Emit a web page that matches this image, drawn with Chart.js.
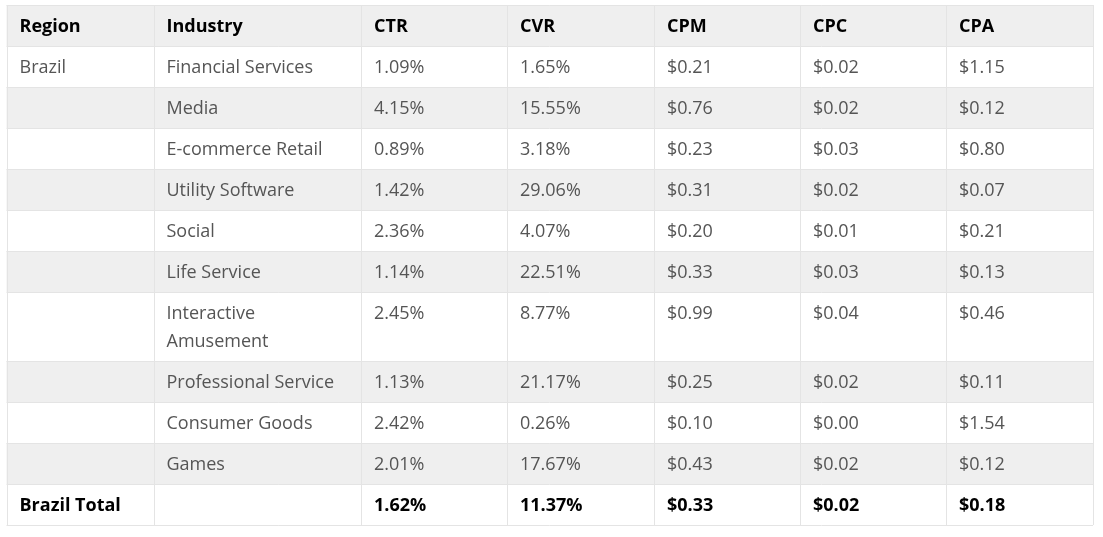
<!DOCTYPE html>
<html><head><meta charset="utf-8">
<script src="https://cdn.jsdelivr.net/npm/chart.js@4.4.0/dist/chart.umd.min.js"></script>
<style>html,body{margin:0;padding:0;background:#fff;overflow:hidden}#wrap{width:1103px;height:537px;position:relative}</style>
</head><body><div id="wrap"><canvas id="c"></canvas></div>
<script>
// ---- data ----
const columns = ['Region','Industry','CTR','CVR','CPM','CPC','CPA'];
const regions = ['Brazil','','','','','','','','',''];
const industries = ['Financial Services','Media','E-commerce Retail','Utility Software','Social','Life Service','Interactive Amusement','Professional Service','Consumer Goods','Games'];
const ctr = [1.09,4.15,0.89,1.42,2.36,1.14,2.45,1.13,2.42,2.01];
const cvr = [1.65,15.55,3.18,29.06,4.07,22.51,8.77,21.17,0.26,17.67];
const cpm = [0.21,0.76,0.23,0.31,0.20,0.33,0.99,0.25,0.10,0.43];
const cpc = [0.02,0.02,0.03,0.02,0.01,0.03,0.04,0.02,0.00,0.02];
const cpa = [1.15,0.12,0.80,0.07,0.21,0.13,0.46,0.11,1.54,0.12];
const totalLabel = 'Brazil Total';
const totalCtr = 1.62, totalCvr = 11.37, totalCpm = 0.33, totalCpc = 0.02, totalCpa = 0.18;

// ---- style ----
const colWidths = [147,207.5,146,147,146,146,147];
const FONT = '"Open Sans", "Noto Sans", sans-serif';
const FS = 18, LINE_H = 28, PAD_Y = 6.5, PAD_X = 13;
const HEAD_BG = '#efefef', STRIPE_BG = '#efefef', BORDER = '#e4e4e4';
const TEXT = '#555555', BOLD_TEXT = '#000000';

const pct = v => v.toFixed(2) + '%';
const usd = v => '$' + v.toFixed(2);

const rows = [];
rows.push({cells: columns, bold: true, bg: HEAD_BG});
industries.forEach((ind, i) => {
  rows.push({cells: [regions[i], ind, pct(ctr[i]), pct(cvr[i]), usd(cpm[i]), usd(cpc[i]), usd(cpa[i])],
             bold: false, bg: (i % 2 === 1) ? STRIPE_BG : '#ffffff'});
});
rows.push({cells: [totalLabel, '', pct(totalCtr), pct(totalCvr), usd(totalCpm), usd(totalCpc), usd(totalCpa)], bold: true, bg: '#ffffff'});

// word wrap measurement
const mctx = document.createElement('canvas').getContext('2d');
function wrap(text, maxW, bold) {
  mctx.font = (bold ? 'bold ' : '') + FS + 'px ' + FONT;
  if (!text) return [''];
  const words = text.split(' ');
  const lines = []; let cur = '';
  words.forEach(w => {
    const t = cur ? cur + ' ' + w : w;
    if (mctx.measureText(t).width > maxW && cur) { lines.push(cur); cur = w; } else cur = t;
  });
  lines.push(cur);
  return lines;
}
let yAcc = 0;
rows.forEach(r => {
  r.lines = r.cells.map((t, c) => wrap(t, colWidths[c] - 2 * PAD_X, r.bold));
  const n = Math.max(...r.lines.map(l => l.length));
  r.top = yAcc; r.h = 2 * PAD_Y + n * LINE_H; yAcc += r.h; r.bottom = yAcc;
});
const totalH = yAcc;
const totalW = colWidths.reduce((a, b) => a + b, 0);
const colStarts = []; { let a = 0; colWidths.forEach(w => { colStarts.push(a); a += w; }); colStarts.push(a); }

const tablePlugin = {
  id: 'table',
  beforeDatasetsDraw(chart) {
    const ctx = chart.ctx, xs = chart.scales.x, ys = chart.scales.y;
    ctx.save();
    const X = v => xs.getPixelForValue(v), Y = v => ys.getPixelForValue(v);
    rows.forEach(r => {
      ctx.fillStyle = r.bg;
      ctx.fillRect(X(0), Y(r.top), X(totalW) - X(0), Y(r.bottom) - Y(r.top));
    });
    ctx.strokeStyle = BORDER; ctx.lineWidth = 1;
    const cr = v => Math.round(v) + 0.5;
    ctx.beginPath();
    ctx.moveTo(X(0), cr(Y(0))); ctx.lineTo(X(totalW), cr(Y(0)));
    rows.forEach(r => { ctx.moveTo(X(0), cr(Y(r.bottom))); ctx.lineTo(X(totalW), cr(Y(r.bottom))); });
    colStarts.forEach(c => { ctx.moveTo(cr(X(c)), Y(0)); ctx.lineTo(cr(X(c)), Y(totalH)); });
    ctx.stroke();
    ctx.textBaseline = 'alphabetic'; ctx.textAlign = 'left';
    rows.forEach(r => {
      ctx.font = (r.bold ? 'bold ' : '') + FS + 'px ' + FONT;
      ctx.fillStyle = r.bold ? BOLD_TEXT : TEXT;
      r.lines.forEach((ls, c) => {
        ls.forEach((t, k) => {
          ctx.fillText(t, X(colStarts[c]) + PAD_X, Y(r.top) + PAD_Y + 20 + k * LINE_H);
        });
      });
    });
    ctx.restore();
  }
};

new Chart(document.getElementById('c'), {
  type: 'scatter',
  data: { datasets: [] },
  options: {
    responsive: true, maintainAspectRatio: false, animation: false,
    layout: { padding: { left: 6.5, top: 5, right: 1103 - 6.5 - totalW, bottom: 537 - 5 - totalH } },
    plugins: { legend: { display: false }, tooltip: { enabled: false } },
    scales: {
      x: { type: 'linear', min: 0, max: totalW, display: false, offset: false },
      y: { type: 'linear', min: 0, max: totalH, reverse: true, display: false, offset: false }
    }
  },
  plugins: [tablePlugin]
});
</script></body></html>
